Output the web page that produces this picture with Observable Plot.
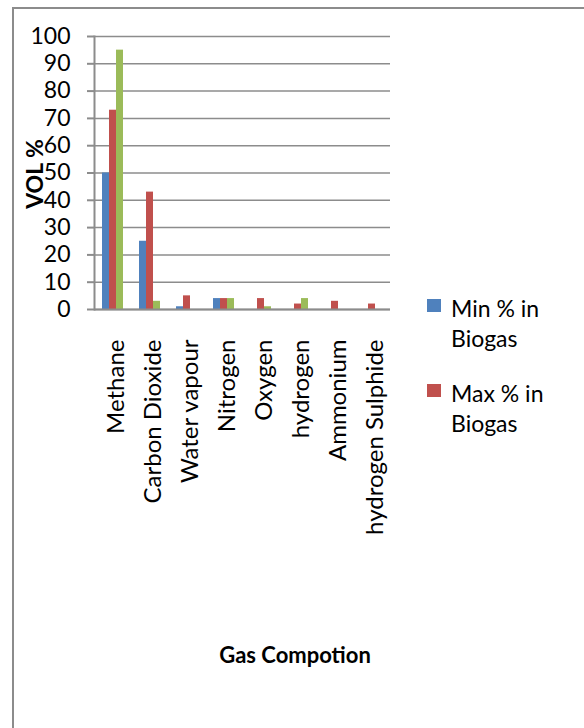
<!DOCTYPE html>
<html><head><meta charset="utf-8">
<script src="https://cdn.jsdelivr.net/npm/d3@7"></script>
<script src="https://cdn.jsdelivr.net/npm/@observablehq/plot@0.6"></script>
<style>
body{margin:0;background:#fff;font-family:Lato,sans-serif;}
#wrap{position:relative;width:584px;height:728px;overflow:hidden;background:#fff;}
#border{position:absolute;left:12px;top:7px;width:620px;height:800px;border-left:2px solid #8c8c8c;border-top:2px solid #8c8c8c;box-sizing:border-box;}
#chart{position:absolute;left:0;top:0;}
.lg{position:absolute;font-size:23px;line-height:30px;color:#000;}
.sw{position:absolute;width:14px;height:13px;}
#xtitle{position:absolute;left:195px;width:200px;text-align:center;top:644px;font-weight:bold;font-size:22px;line-height:22px;}
</style>
</head><body>
<div id="wrap">
<div id="border"></div>
<div id="chart"></div>
<div id="legend"></div>
<div id="xtitle"></div>
</div>
<script>
const categories = ["Methane","Carbon Dioxide","Water vapour","Nitrogen","Oxygen","hydrogen","Ammonium","hydrogen Sulphide"];
const seriesNames = ["Min % in Biogas","Max % in Biogas","Series3"];
const minValues   = [50,25,1,4,0,0,0,0];
const maxValues   = [73,43,5,4,4,2,3,2];
const thirdValues = [95,3,0,4,1,4,0,0];
const yTicks = [0,10,20,30,40,50,60,70,80,90,100];
const colors = ["#4F81BD","#C0504D","#9BBB59"];
const legendSeries = ["Min % in Biogas","Max % in Biogas"];
const yTitle = "VOL %";
const xTitle = "Gas Compotion";

const seriesValues = [minValues, maxValues, thirdValues];
const table = [];
categories.forEach((gas, i) => {
  seriesNames.forEach((s, j) => table.push({gas, series: s, value: seriesValues[j][i]}));
});

const grey = "#8c8c8c";
const chart = Plot.plot({
  width: 584, height: 728,
  marginTop: 36, marginBottom: 419, marginLeft: 94, marginRight: 194,
  style: {fontFamily: "Lato, sans-serif", fontSize: "23px", color: "#000", background: "transparent", overflow: "visible"},
  fx: {domain: categories, padding: 0, label: null, axis: null},
  x: {domain: seriesNames, paddingInner: 0, paddingOuter: 0.9, axis: null},
  y: {domain: [0, 100], label: null, axis: null},
  color: {domain: seriesNames, range: colors},
  marks: [
    Plot.gridY(yTicks, {stroke: grey, strokeOpacity: 1, strokeWidth: 1.5}),
    Plot.barY(table, {fx: "gas", x: "series", y: "value", fill: "series"}),
    Plot.ruleY([0], {stroke: grey, strokeWidth: 2}),
    Plot.frame({anchor: "left", facetAnchor: "left", stroke: grey, strokeWidth: 2}),
    Plot.axisY(yTicks, {tickSize: 7, tickPadding: 17, stroke: grey, strokeWidth: 2, fontSize: 23, label: null}),
    Plot.axisFx({anchor: "bottom", tickRotate: -90, tickSize: 0, tickPadding: 30, dx: 3, fontSize: 24, label: null})
  ]
});
document.getElementById("chart").appendChild(chart);

// y title
const svg = d3.select(chart);
svg.append("text")
  .attr("transform", "translate(43,174) rotate(-90)")
  .attr("text-anchor", "middle")
  .attr("font-weight", "bold")
  .attr("font-size", 23)
  .attr("font-family", "Lato, sans-serif")
  .attr("fill", "#000")
  .text(yTitle);

const lg = document.getElementById("legend");
const lgTops = [293, 378];
legendSeries.forEach((s, i) => {
  const sw = document.createElement("div");
  sw.className = "sw";
  sw.style.left = "427px";
  sw.style.top = (lgTops[i] + 6) + "px";
  sw.style.background = colors[seriesNames.indexOf(s)];
  lg.appendChild(sw);
  const t = document.createElement("div");
  t.className = "lg";
  t.style.left = "451px";
  t.style.top = lgTops[i] + "px";
  t.style.width = "125px";
  t.textContent = s;
  lg.appendChild(t);
});
document.getElementById("xtitle").textContent = xTitle;
</script>
</body></html>
